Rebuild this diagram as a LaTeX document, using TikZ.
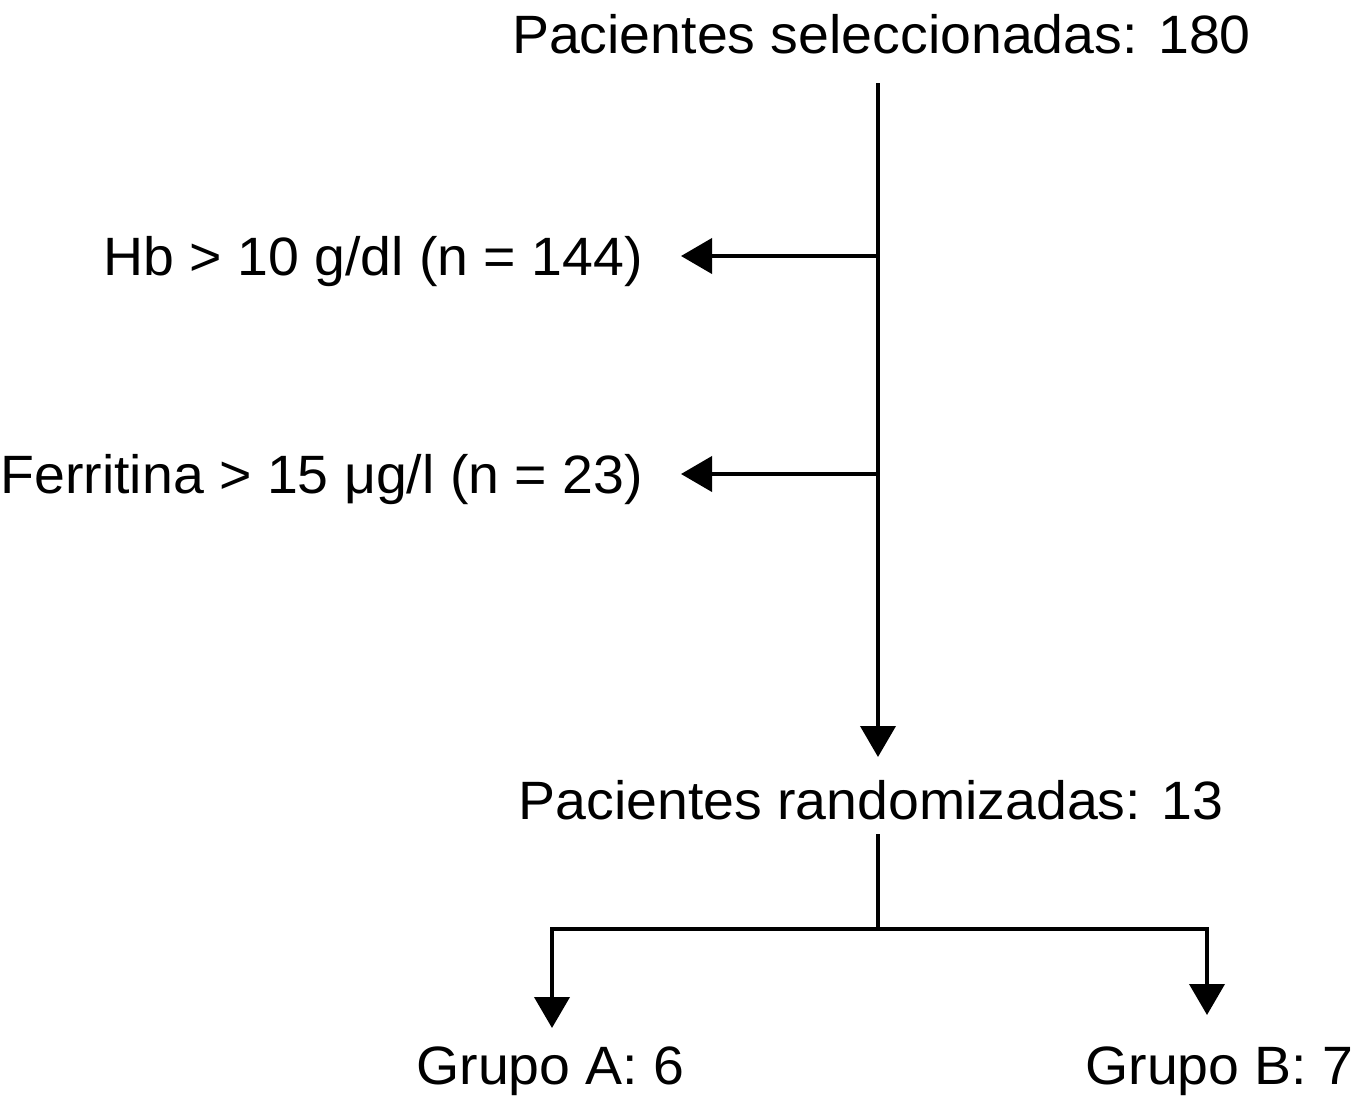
\documentclass[tikz,border=0pt]{standalone}
\usepackage{fontspec}
\setmainfont[FakeStretch=1.027]{Liberation Sans}
\usetikzlibrary{arrows.meta}
\begin{document}
\begin{tikzpicture}[x=1pt,y=-1pt,
  lbl/.style={inner sep=0pt,font=\fontsize{54}{60}\selectfont},
  conn/.style={line width=4pt,line cap=rect},
  arr/.style={conn,-{Triangle[width=35pt,length=31pt]}}]
\useasboundingbox (0,0) rectangle (1361,1111);
% text nodes
\node[lbl,anchor=base] (sel) at (881.5,53) {Pacientes seleccionadas: 180};
\node[lbl,anchor=base east] (hb) at (643,275) {Hb > 10 g/dl (n = 144)};
\node[lbl,anchor=base east] (fer) at (643,493) {Ferritina > 15 μg/l (n = 23)};
\node[lbl,anchor=base] (rand) at (871,819) {Pacientes randomizadas: 13};
\node[lbl,anchor=base] (ga) at (550.5,1084) {Grupo A: 6};
\node[lbl,anchor=base] (gb) at (1219.5,1084) {Grupo B: 7};
% junction coordinates
\coordinate (s0) at (878,85);
\coordinate (j1) at (878,256);
\coordinate (j2) at (878,474);
\coordinate (e1) at (681,256);
\coordinate (e2) at (681,474);
\coordinate (s1) at (878,757);
\coordinate (r0) at (878,836);
\coordinate (r1) at (878,929);
\coordinate (la) at (552,929);
\coordinate (lb) at (1207,929);
\coordinate (ta) at (552,1028);
\coordinate (tb) at (1207,1015);
% connectors
\draw[arr] (s0) -- (s1);
\draw[arr] (j1) -- (e1);
\draw[arr] (j2) -- (e2);
\draw[conn] (r0) -- (r1);
\draw[conn,line cap=butt] ([xshift=-2pt]la) -- ([xshift=2pt]lb);
\draw[arr] (la) -- (ta);
\draw[arr] (lb) -- (tb);
\end{tikzpicture}
\end{document}
